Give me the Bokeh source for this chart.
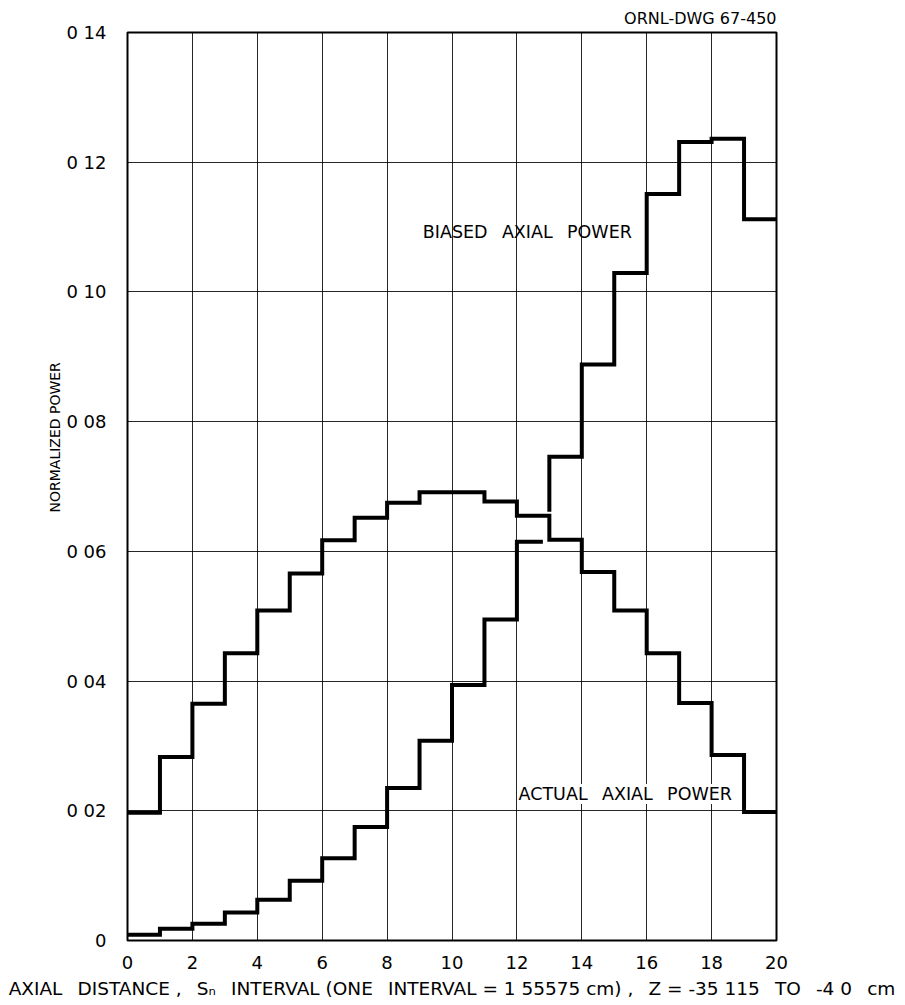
from bokeh.plotting import figure
from bokeh.models import Range1d, FixedTicker, Label, Title
from bokeh.embed import file_html
from bokeh.resources import INLINE

# S_n interval edges (0..20)
interval_edges = list(range(21))

# normalized power per interval (20 intervals)
actual_power = [0.0197, 0.0283, 0.0365, 0.0443, 0.0509, 0.0566, 0.0617, 0.0652, 0.0675, 0.0691,
                0.0691, 0.0677, 0.0655, 0.0618, 0.0568, 0.0509, 0.0443, 0.0366, 0.0286, 0.0198]
biased_power = [0.0009, 0.0018, 0.0026, 0.0043, 0.0063, 0.0092, 0.0127, 0.0175, 0.0235, 0.0308,
                0.0394, 0.0495, 0.0615, 0.0746, 0.0888, 0.1029, 0.1151, 0.1231, 0.1236, 0.1112]

x_ticks = [0, 2, 4, 6, 8, 10, 12, 14, 16, 18, 20]
y_ticks = [0, 0.02, 0.04, 0.06, 0.08, 0.10, 0.12, 0.14]
y_tick_labels = ["0", "0 02", "0 04", "0 06", "0 08", "0 10", "0 12", "0 14"]

FONT = "DejaVu Sans"
SP = " \u2002"  # wide word gap as in the lettering

p = figure(frame_width=649, frame_height=908,
           min_border_left=127, min_border_right=129, min_border_top=32, min_border_bottom=65,
           x_range=Range1d(0, 20), y_range=Range1d(0, 0.14),
           output_backend="svg", toolbar_location=None,
           title="ORNL-DWG 67-450")

p.title.align = "right"
p.title.text_font = FONT
p.title.text_font_style = "normal"
p.title.text_font_size = "16px"
p.title.text_color = "black"
p.title.standoff = 9

p.background_fill_color = "white"
p.border_fill_color = "white"
p.outline_line_color = "black"
p.outline_line_width = 2

p.xaxis.ticker = FixedTicker(ticks=x_ticks)
p.yaxis.ticker = FixedTicker(ticks=y_ticks)
p.yaxis.major_label_overrides = {t: l for t, l in zip(y_ticks, y_tick_labels)}

for ax in (p.xaxis[0], p.yaxis[0]):
    ax.axis_line_color = None
    ax.major_tick_line_color = None
    ax.minor_tick_line_color = None
    ax.major_label_text_font = FONT
    ax.major_label_text_font_size = "18px"
    ax.major_label_text_color = "black"
p.xaxis.major_label_standoff = 9
p.yaxis.major_label_standoff = 15

p.xaxis.axis_label = ("AXIAL" + SP + "DISTANCE ," + SP + "Sₙ" + SP + "INTERVAL (ONE" + SP +
                      "INTERVAL = 1 55575 cm) ," + SP + "Z = -35 115" + SP + "TO" + SP + "-4 0" + SP + "cm")
p.xaxis.axis_label_text_font = FONT
p.xaxis.axis_label_text_font_style = "normal"
p.xaxis.axis_label_text_font_size = "18.5px"
p.xaxis.axis_label_text_color = "black"
p.xaxis.axis_label_standoff = 6

p.xgrid.ticker = FixedTicker(ticks=x_ticks)
p.ygrid.ticker = FixedTicker(ticks=y_ticks)
for g in (p.xgrid[0], p.ygrid[0]):
    g.grid_line_color = "black"
    g.grid_line_width = 1
    g.grid_line_alpha = 0.85


def step_path(edges, vals):
    xs, ys = [], []
    for i, v in enumerate(vals):
        xs += [edges[i], edges[i + 1]]
        ys += [v, v]
    return xs, ys


ax_, ay_ = step_path(interval_edges, actual_power)
p.line(ax_, ay_, line_color="black", line_width=4, line_join="miter")

# biased curve, with the small break where it crosses the actual curve (as drawn)
bx, by = step_path(interval_edges, biased_power)
cross = 13
k = bx.index(cross)
gap = 0.2
x1 = bx[:k] + [cross - gap]
y1 = by[:k] + [by[k]]
x2 = [cross] + bx[k + 1:]
y2 = [actual_power[cross - 1] + 0.0006] + by[k + 1:]
p.line(x1, y1, line_color="black", line_width=4, line_join="miter")
p.line(x2, y2, line_color="black", line_width=4, line_join="miter")

p.add_layout(Label(x=9.1, y=0.1092, text="BIASED" + SP + "AXIAL" + SP + "POWER", text_font=FONT,
                   text_font_size="17.5px", text_baseline="middle", text_align="left",
                   text_color="black"))
p.add_layout(Label(x=12.05, y=0.0226, text="ACTUAL" + SP + "AXIAL" + SP + "POWER", text_font=FONT,
                   text_font_size="17.5px", text_baseline="middle", text_align="left",
                   text_color="black", background_fill_color="white"))

ylab = Title(text="NORMALIZED POWER", align="left", offset=428, text_font=FONT,
             text_font_size="14px", text_font_style="normal", text_color="black", standoff=2)
p.add_layout(ylab, "left")

open("out.html", "w").write(file_html(p, INLINE))
